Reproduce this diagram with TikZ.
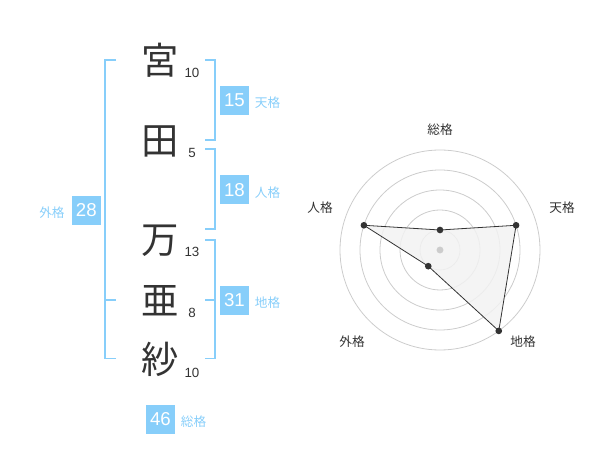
\documentclass[tikz,border=0pt]{standalone}
\usepackage{fontspec}
\setmainfont{Liberation Sans}
\newfontfamily\jp{Noto Sans CJK JP}
\usetikzlibrary{positioning}
\definecolor{skyblue}{HTML}{87CEFA}
\definecolor{ink}{HTML}{333333}
\definecolor{ringgray}{HTML}{CCCCCC}
\definecolor{areagray}{HTML}{F2F2F2}
\begin{document}
\begin{tikzpicture}[x=0.75pt,y=-0.75pt,
	kanji/.style={text=ink,font=\jp\fontsize{28}{28}\selectfont,inner sep=0pt},
	strokes/.style={text=ink,font=\fontsize{10}{10}\selectfont,inner sep=0pt},
	kakubox/.style={fill=skyblue,text=white,minimum size=21.75pt,inner sep=0pt,font=\fontsize{14}{14}\selectfont},
	kakuname/.style={text=skyblue,font=\jp\fontsize{9.5}{10}\selectfont,inner sep=0pt},
	axisname/.style={text=ink,font=\jp\fontsize{9.5}{10}\selectfont,inner sep=0pt},
	bracket/.style={skyblue,line width=1.2pt},
	dot/.style={circle,fill=ink,inner sep=0pt,minimum size=5pt}]
	\useasboundingbox (0,0) rectangle (600,470);
	
	% name
	\node[kanji] (k1) at (160,60.5) {宮};
	\node[kanji] (k2) at (160,141) {田};
	\node[kanji] (k3) at (160,241) {万};
	\node[kanji] (k4) at (160,301) {亜};
	\node[kanji] (k5) at (160,359) {紗};
	
	\node[strokes] (s1) at (192,72.7) {10};
	\node[strokes] (s2) at (192,152.7) {5};
	\node[strokes] (s3) at (192,252.3) {13};
	\node[strokes] (s4) at (192,313.3) {8};
	\node[strokes] (s5) at (192,372.7) {10};
	
	% brackets
	\draw[bracket] (116,60) -- (105,60) -- (105,358.5) -- (116,358.5);
	\draw[bracket] (105,300) -- (116,300);
	\draw[bracket] (205,60) -- (215,60) -- (215,140) -- (205,140);
	\draw[bracket] (205,149) -- (215,149) -- (215,229) -- (205,229);
	\draw[bracket] (205,240) -- (215,240) -- (215,358.5) -- (205,358.5);
	\draw[bracket] (205,300) -- (215,300);
	
	% totals
	\node[kakubox] (ten) at (234.5,100.5) {15};
	\node[kakubox] (jin) at (234.5,190) {18};
	\node[kakubox] (chi) at (234.5,300.3) {31};
	\node[kakubox] (gai) at (86.3,210.3) {28};
	\node[kakubox] (sou) at (160.5,419) {46};
	
	\node[kakuname,right=4pt of ten,yshift=-2pt] {天格};
	\node[kakuname,right=4pt of jin,yshift=-2pt] {人格};
	\node[kakuname,right=4pt of chi,yshift=-2pt] {地格};
	\node[kakuname,left=5pt of gai,yshift=-2pt] {外格};
	\node[kakuname,right=4pt of sou,yshift=-2pt] {総格};
	
	% radar
	\foreach \r in {20,40,60,80,100}
		\draw[ringgray,line width=0.6pt] (440,250) circle (\r*0.75pt);
	
	\coordinate (c) at (440,250);
	\coordinate (psou) at ([shift={(-90:20)}]c);
	\coordinate (pten) at ([shift={(-18:80)}]c);
	\coordinate (pchi) at ([shift={(54:100)}]c);
	\coordinate (pgai) at ([shift={(126:20)}]c);
	\coordinate (pjin) at ([shift={(198:80)}]c);
	
	\draw[ink,fill=areagray,fill opacity=0.85,line width=0.6pt] (psou) -- (pten) -- (pchi) -- (pgai) -- (pjin) -- cycle;
	\fill[ringgray] (c) circle (2.6pt);
	\foreach \p in {psou,pten,pchi,pgai,pjin}
		\node[dot] at (\p) {};
	
	\node[axisname] (asou) at (440,130) {総格};
	\node[axisname] (aten) at (562,208) {天格};
	\node[axisname] (achi) at (523,342) {地格};
	\node[axisname] (agai) at (352,342) {外格};
	\node[axisname] (ajin) at (320,208) {人格};
	
\end{tikzpicture}
\end{document}
